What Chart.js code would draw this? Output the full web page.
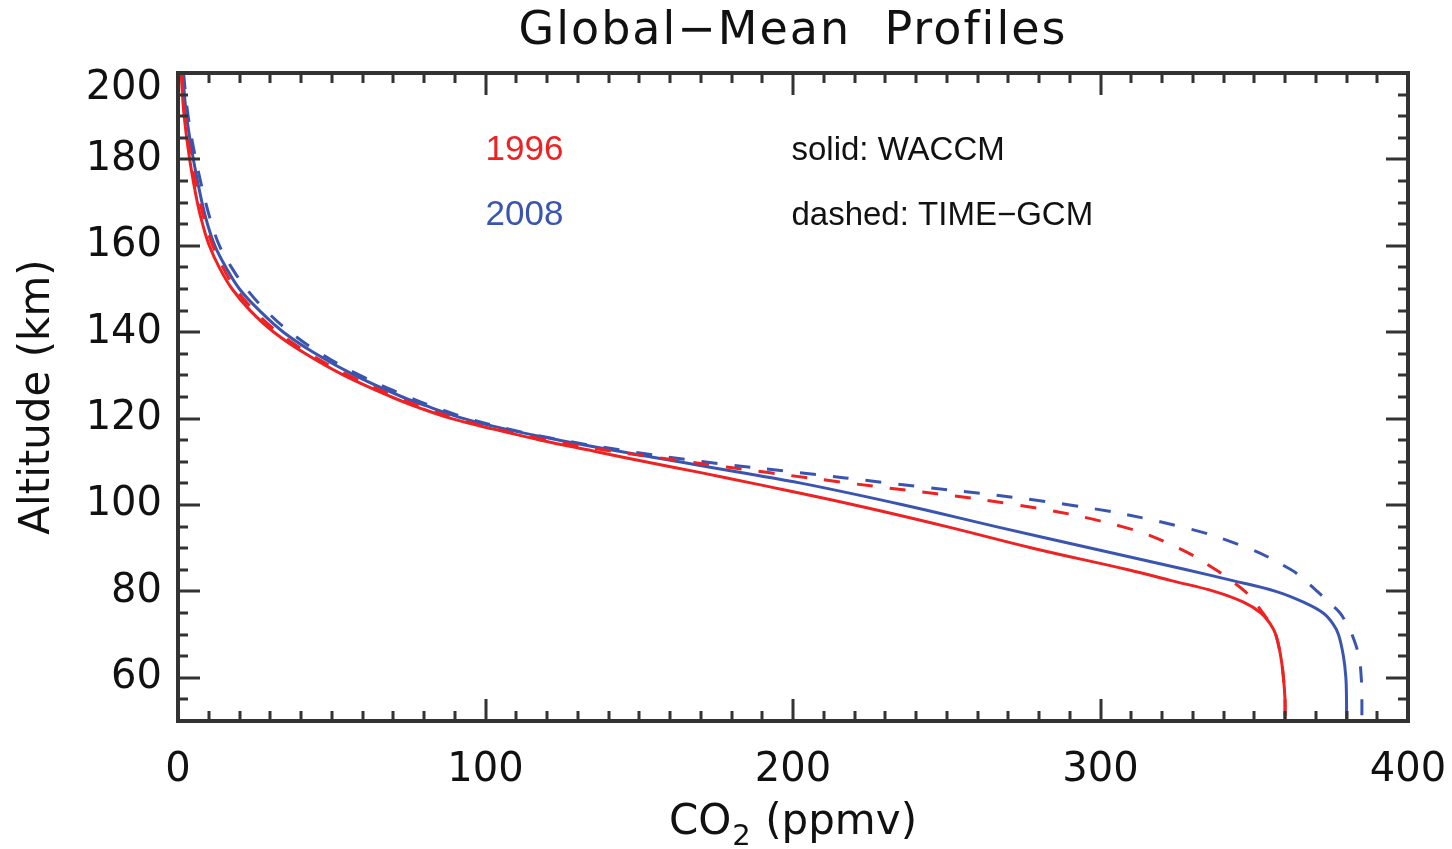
<!DOCTYPE html>
<html>
<head>
<meta charset="utf-8">
<script src="https://cdn.jsdelivr.net/npm/chart.js@4.4.1/dist/chart.umd.min.js"></script>
<style>
  html, body { margin: 0; padding: 0; background: #fff; }
</style>
</head>
<body>
<canvas id="chart" width="1452" height="849"></canvas>
<script>
// altitude grid (km) shared by all four profiles
const altitude = [200, 190, 180, 170, 165, 160, 155, 150, 145, 140, 135, 130, 125, 122.5, 120, 117.5,
                  115, 112.5, 110, 107.5, 105, 100, 95, 90, 85, 82.5, 80, 77.5, 75, 72.5, 70, 65, 60, 55, 50];

// CO2 (ppmv)
const waccm1996 = [1.0, 2.0, 3.8, 6.3, 8.0, 10.2, 13.4, 17.6, 23.5, 31.2, 41.5, 54, 69.5, 78.5, 89, 103,
                   118, 135, 152, 170, 187, 220, 250, 278, 309, 323, 337, 346.5, 352.2, 355.2, 357, 358.6, 359.5, 360, 360];
const timegcm1996 = [1.2, 2.3, 4.3, 7.2, 9.0, 11.3, 14.6, 18.8, 24.8, 32.5, 42.8, 55.5, 71, 80, 90.5, 104,
                     120, 141, 166, 192, 219, 273, 307, 325.5, 337.5, 342.5, 347, 350.2, 352.8, 355.3, 357, 358.6, 359.5, 360, 360];
const waccm2008 = [1.5, 2.8, 5.0, 7.8, 9.6, 12, 15.6, 20, 26.5, 34.3, 44.8, 57.5, 73, 82.5, 93, 107,
                   124, 143, 163, 183, 203, 236, 266, 297, 328, 343, 357, 366, 372.4, 375.6, 377.4, 379, 379.8, 380, 380];
const timegcm2008 = [1.8, 3.3, 5.8, 9.0, 11.0, 13.5, 17.4, 22.3, 28.6, 36.5, 46.6, 59.2, 75, 84, 94.5, 108,
                     125, 146, 171, 202, 232, 290, 326, 348, 362, 366.5, 370.5, 374.2, 377.9, 380, 381.8, 384, 384.8, 385, 385];

const xTicks = [0, 100, 200, 300, 400];
const yTicks = [60, 80, 100, 120, 140, 160, 180, 200];

const RED = "#ee2222";
const BLUE = "#3a55b0";

// text annotations: [text, x (ppmv), altitude (km), colour, font size]
const notes = [
    ["1996", 100, 182, RED, 35],
    ["2008", 100, 167, BLUE, 35],
    ["solid: WACCM", 199.5, 182, "#111", 33],
    ["dashed: TIME\u2212GCM", 199.5, 167, "#111", 33],
];

function profile(values) {
    return values.map((v, i) => ({ x: v, y: altitude[i] }));
}

const framePlugin = {
    id: "frame",
    afterDraw(chart) {
        const { ctx, chartArea: a, scales: { x, y } } = chart;
        ctx.save();

        // inward ticks on all four sides, like the IDL plot
        ctx.strokeStyle = "#333";
        ctx.lineWidth = 3;
        ctx.beginPath();
        for (let v = 0; v <= 400; v += 10) {
            const px = Math.round(x.getPixelForValue(v));
            const len = xTicks.includes(v) ? 22 : 10;
            ctx.moveTo(px, a.bottom); ctx.lineTo(px, a.bottom - len);
            ctx.moveTo(px, a.top); ctx.lineTo(px, a.top + len);
        }
        for (let v = 50; v <= 200; v += 5) {
            const py = Math.round(y.getPixelForValue(v));
            const len = yTicks.includes(v) ? 22 : 10;
            ctx.moveTo(a.left, py); ctx.lineTo(a.left + len, py);
            ctx.moveTo(a.right, py); ctx.lineTo(a.right - len, py);
        }
        ctx.stroke();

        ctx.lineWidth = 4;
        ctx.strokeRect(a.left, a.top, a.right - a.left, a.bottom - a.top);

        // tick labels
        ctx.fillStyle = "#111";
        ctx.font = '40px "DejaVu Sans"';
        ctx.textAlign = "center";
        ctx.textBaseline = "middle";
        xTicks.forEach(v => ctx.fillText(String(v), x.getPixelForValue(v), a.bottom + 50));
        ctx.textAlign = "right";
        yTicks.forEach(v => {
            const py = Math.max(y.getPixelForValue(v), a.top + 16);
            ctx.fillText(String(v), a.left - 16, py);
        });

        // x axis title with a lowered subscript
        const big = '42px "DejaVu Sans"', small = '29px "DejaVu Sans"';
        ctx.textAlign = "left";
        ctx.font = big;
        const w1 = ctx.measureText("CO").width, w3 = ctx.measureText(" (ppmv)").width;
        ctx.font = small;
        const w2 = ctx.measureText("2").width + 2;
        let tx = (a.left + a.right) / 2 - (w1 + w2 + w3) / 2;
        const ty = a.bottom + 102;
        ctx.font = big;
        ctx.fillText("CO", tx, ty);
        ctx.font = small;
        ctx.fillText("2", tx + w1 + 1, ty + 14);
        ctx.font = big;
        ctx.fillText(" (ppmv)", tx + w1 + w2, ty);

        // y axis title
        ctx.textAlign = "center";
        ctx.save();
        ctx.translate(38, (a.top + a.bottom) / 2);
        ctx.rotate(-Math.PI / 2);
        ctx.fillText("Altitude (km)", 0, 0);
        ctx.restore();

        // title
        ctx.font = '46px "DejaVu Sans"';
        ctx.letterSpacing = "2px";
        ctx.fillText("Global\u2212Mean  Profiles", (a.left + a.right) / 2, 32);
        ctx.letterSpacing = "0px";

        // in-plot notes
        ctx.textAlign = "left";
        notes.forEach(([t, xv, yv, c, size]) => {
            ctx.font = size + 'px "Liberation Sans"';
            ctx.fillStyle = c;
            ctx.fillText(t, x.getPixelForValue(xv), y.getPixelForValue(yv));
        });

        ctx.restore();
    }
};

const line = (data, color, dashed) => ({
    data: profile(data),
    showLine: true,
    borderColor: color,
    backgroundColor: color,
    borderWidth: 3,
    borderDash: dashed ? [16, 17] : [],
    pointRadius: 0,
    tension: 0.4,
    fill: false,
});

new Chart(document.getElementById("chart"), {
    type: "scatter",
    data: {
        datasets: [
            line(waccm1996, RED, false),
            line(timegcm1996, RED, true),
            line(waccm2008, BLUE, false),
            line(timegcm2008, BLUE, true),
        ],
    },
    options: {
        responsive: false,
        animation: false,
        devicePixelRatio: 1,
        layout: { padding: { top: 73, right: 44, left: 0, bottom: 0 } },
        plugins: { legend: { display: false }, tooltip: { enabled: false }, title: { display: false } },
        scales: {
            x: {
                type: "linear",
                min: 0,
                max: 400,
                grid: { display: false },
                border: { display: false },
                ticks: { display: false },
                afterFit: s => { s.height = 128; },
            },
            y: {
                type: "linear",
                min: 50,
                max: 200,
                grid: { display: false },
                border: { display: false },
                ticks: { display: false },
                afterFit: s => { s.width = 178; },
            },
        },
    },
    plugins: [framePlugin],
});
</script>
</body>
</html>
